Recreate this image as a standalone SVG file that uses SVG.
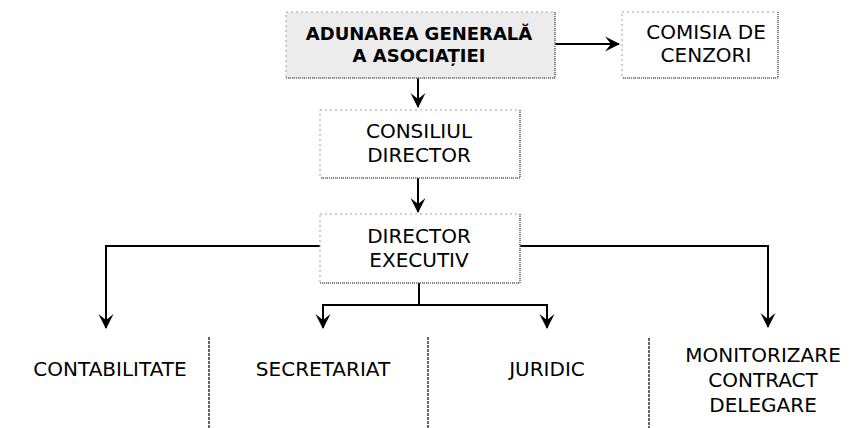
<svg xmlns="http://www.w3.org/2000/svg" width="863" height="428" viewBox="0 0 863 428">
<style>
text{font-family:"DejaVu Sans","Liberation Sans",sans-serif;font-size:20px;fill:#000;text-anchor:middle}
.b{font-weight:bold;font-size:18px}
.box{fill:#fff;stroke:#a0a0a0;stroke-width:1;stroke-dasharray:2 3}
.gray{fill:#ececec}
.edge{fill:none;stroke:#6a6a6a;stroke-width:1.5;stroke-dasharray:1 1}
.c{fill:none;stroke:#000;stroke-width:2}
.sep{stroke:#333;stroke-width:1.5;stroke-dasharray:3 1}
</style>
<defs>
<marker id="ah" markerWidth="18" markerHeight="18" refX="9" refY="16" orient="0" markerUnits="userSpaceOnUse" viewBox="0 0 18 18">
<path d="M1.5,2 L9,8 L16.5,2 L9,17 Z" fill="#000"/>
</marker>
<marker id="ar" markerWidth="18" markerHeight="18" refX="16" refY="9" orient="0" markerUnits="userSpaceOnUse" viewBox="0 0 18 18">
<path d="M2,1.5 L8,9 L2,16.5 L17,9 Z" fill="#000"/>
</marker>
</defs>
<g id="connectors">
<path class="c" d="M555,44 H619" marker-end="url(#ar)"/>
<path class="c" d="M418,78 V107" marker-end="url(#ah)"/>
<path class="c" d="M418,178 V212" marker-end="url(#ah)"/>
<path class="c" d="M320,246 H106 V328" marker-end="url(#ah)"/>
<path class="c" d="M520,246 H768 V327" marker-end="url(#ah)"/>
<path class="c" d="M419,283 V305"/>
<path class="c" d="M323,328 V305 H547 V328" marker-start="url(#ah)" marker-end="url(#ah)"/>
</g>
<g id="n-aga">
<rect class="box gray" x="286" y="12" width="269" height="66"/>
<path class="edge" d="M555,12 V78 H286"/>
<text class="b" x="419" y="40">ADUNAREA GENERALĂ</text>
<text class="b" x="419" y="62">A ASOCIAȚIEI</text>
</g>
<g id="n-cenzori">
<rect class="box" x="622" y="12" width="156" height="66"/>
<path class="edge" d="M778,12 V78 H622"/>
<text x="706" y="39">COMISIA DE</text>
<text x="706" y="62">CENZORI</text>
</g>
<g id="n-consiliul">
<rect class="box" x="320" y="110" width="200" height="68"/>
<path class="edge" d="M520,110 V178 H320"/>
<text x="419" y="138">CONSILIUL</text>
<text x="419" y="162">DIRECTOR</text>
</g>
<g id="n-executiv">
<rect class="box" x="320" y="214" width="200" height="69"/>
<path class="edge" d="M520,214 V283 H320"/>
<text x="419" y="243">DIRECTOR</text>
<text x="419" y="267">EXECUTIV</text>
</g>
<g id="n-contabilitate">
<text x="110" y="376">CONTABILITATE</text>
</g>
<g id="n-secretariat">
<text x="323" y="376">SECRETARIAT</text>
</g>
<g id="n-juridic">
<text x="547" y="376">JURIDIC</text>
</g>
<g id="n-monitorizare">
<text x="763" y="362">MONITORIZARE</text>
<text x="763" y="387">CONTRACT</text>
<text x="763" y="412">DELEGARE</text>
</g>
<g id="separators">
<line class="sep" x1="209" y1="337" x2="209" y2="428"/>
<line class="sep" x1="428" y1="337" x2="428" y2="428"/>
<line class="sep" x1="649" y1="338" x2="649" y2="428"/>
</g>
</svg>
